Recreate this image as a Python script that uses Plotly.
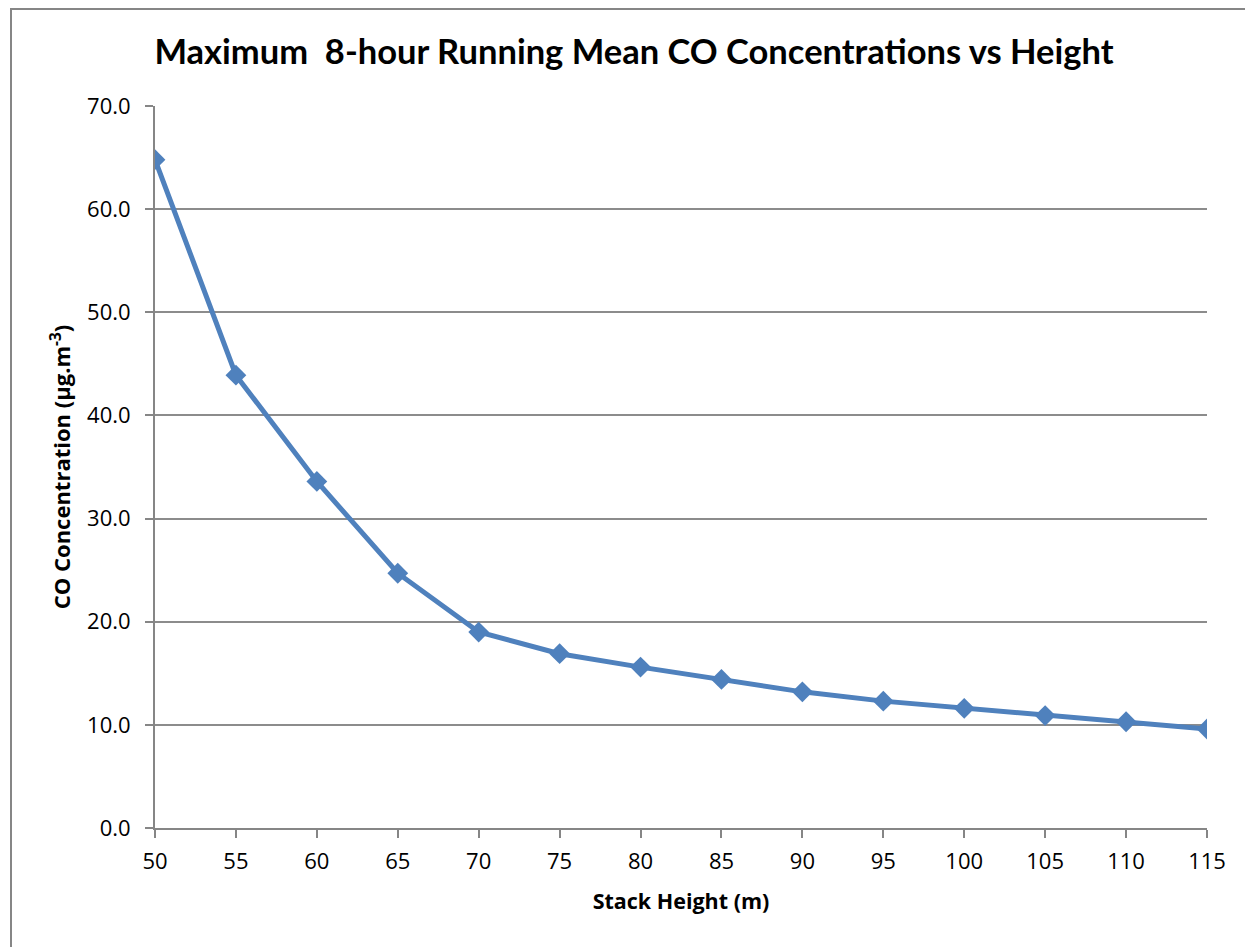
import plotly.graph_objects as go

stack_height = [50, 55, 60, 65, 70, 75, 80, 85, 90, 95, 100, 105, 110, 115]
co_conc = [64.8, 43.9, 33.6, 24.7, 19.0, 16.9, 15.6, 14.4, 13.2, 12.3, 11.6, 10.9, 10.3, 9.6]

OFF = 8  # page body margin
W, H = 1253 - OFF, 947 - OFF
L, T = 155 - OFF, 106 - OFF
R = W - (1207 - OFF)
B = H - (828 - OFF)
pw, ph = W - L - R, H - T - B

def px_x(p):
    return (p - L) / pw

def px_y(p):
    return (H - B - p) / ph

fig = go.Figure()
fig.add_trace(go.Scatter(
    x=stack_height, y=co_conc, mode="lines+markers",
    line=dict(color="#4F81BD", width=5),
    marker=dict(symbol="diamond", size=16, color="#4F81BD"),
    showlegend=False,
))

axis_font = dict(family="Open Sans, DejaVu Sans, sans-serif", size=22, color="#000000")
fig.update_layout(
    width=W, height=H,
    margin=dict(l=L, r=R, t=T, b=B),
    paper_bgcolor="white", plot_bgcolor="white",
    title=dict(
        text="<b>Maximum  8-hour Running Mean CO Concentrations vs Height</b>",
        x=(634 - OFF) / W, xanchor="center", y=1 - (52 - OFF) / H, yanchor="middle",
        font=dict(family="Lato, Open Sans, sans-serif", size=34.5, color="#000000"),
    ),
    xaxis=dict(
        range=[50, 115], tick0=50, dtick=5, tickmode="linear",
        showline=True, linecolor="#868686", linewidth=2,
        ticks="outside", ticklen=8, tickcolor="#868686", tickwidth=2,
        ticklabelstandoff=5,
        showgrid=False, zeroline=False, tickfont=axis_font,
        title=dict(text="<b>Stack Height (m)</b>", standoff=20,
                   font=dict(family="Open Sans, sans-serif", size=21.5, color="#000000")),
    ),
    yaxis=dict(
        range=[0, 70], tick0=0, dtick=10, tickmode="linear", tickformat=".1f",
        showline=True, linecolor="#868686", linewidth=2,
        ticks="outside", ticklen=8, tickcolor="#868686", tickwidth=2,
        ticklabelstandoff=10,
        showgrid=True, gridcolor="#8c8c8c", gridwidth=2,
        zeroline=False, tickfont=axis_font,
        title=dict(text="<b>CO Concentration (µg.m<sup>-3</sup>)</b>", standoff=10,
                   font=dict(family="Open Sans, sans-serif", size=22, color="#000000")),
    ),
)

fig.add_shape(type="rect", xref="paper", yref="paper",
              x0=px_x(10 - OFF + 1), x1=px_x(1247 - OFF), y0=px_y(H + 20), y1=px_y(1),
              line=dict(color="#868686", width=2), layer="below")

fig.write_html("out.html")
